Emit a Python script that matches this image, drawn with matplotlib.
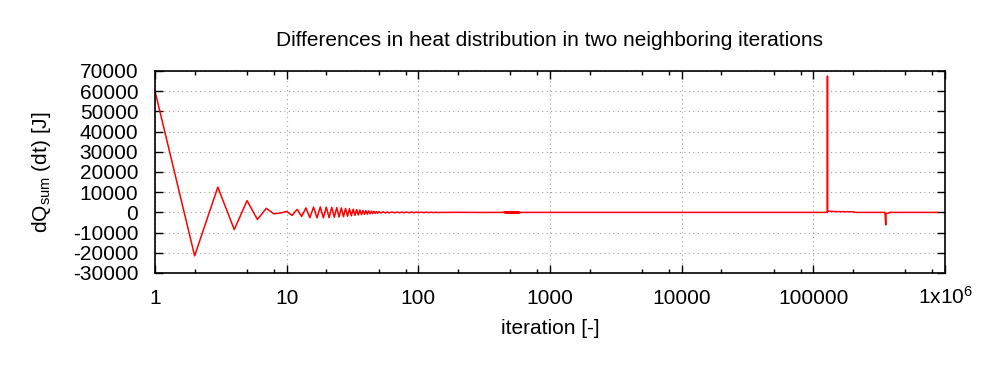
import numpy as np
import matplotlib
matplotlib.use("Agg")
import matplotlib.pyplot as plt
from matplotlib.ticker import FixedLocator, FixedFormatter

plt.rcParams['font.family'] = ['Liberation Sans', 'DejaVu Sans']
plt.rcParams['mathtext.fontset'] = 'custom'
plt.rcParams['mathtext.rm'] = 'Liberation Sans'
plt.rcParams['mathtext.it'] = 'Liberation Sans'

# first iterations, one value per iteration (1..50)
dq_start = [60000, -21500, 12500, -8500, 5800, -3500, 2000, -700, -300, 500,
            -1500, 1500, -2000, 2200, -2600, 2600, -2700, 2700, -2700, 2600,
            -2600, 2500, -2400, 2400, -2300, 2200, -2100, 2000, -1900, 1800,
            -1700, 1600, -1500, 1400, -1300, 1200, -1100, 1000, -900, 850,
            -800, 750, -700, 650, -600, 550, -500, 450, -400, 350]

# small ringing after that
it_mid = [52, 54, 56, 58, 60, 63, 66, 69, 72, 75, 78, 81, 85, 89, 93, 97,
          101, 105, 110, 115, 120, 125, 130, 135, 140, 150, 200, 300, 440]
dq_mid = [-300, 280, -260, 240, -220, 200, -190, 180, -170, 160, -150, 150,
          -140, 140, -130, 130, -120, 120, -120, 110, -110, 100, -100, 90, -70,
          0, 40, -30, 0]

# noisy patch between ~450 and ~600
it_noise = [450, 455, 460, 465, 470, 475, 480, 485, 490, 495, 500, 505, 510,
            515, 520, 525, 530, 535, 540, 545, 550, 555, 560, 565, 570, 575,
            580, 585, 590]
dq_noise = [350, -350, 380, -380, 400, -400, 380, -380, 400, -400, 420, -420,
            400, -400, 380, -380, 400, -400, 380, -380, 360, -360, 380, -380,
            350, -350, 330, -330, 0]

# late iterations: spike and dip
it_late = [600, 1000, 10000, 100000, 127500, 128000, 128500, 150000, 200000,
           210000, 350000, 355000, 356000, 370000, 380000, 880000]
dq_late = [0, 0, 0, 0, 0, 67500, 600, 400, 300, 0, 0, -6200, -500, -400, 0, 0]

iters = np.concatenate([np.arange(1, len(dq_start) + 1), it_mid, it_noise, it_late])
dq = np.concatenate([dq_start, dq_mid, dq_noise, dq_late])

x_major = [1, 10, 100, 1000, 10000, 100000, 1000000]
x_labels = ['1', '10', '100', '1000', '10000', '100000', r'1x10$^{6}$']
x_minor = [m * 10 ** k for k in range(6) for m in (2, 5, 8)]
y_ticks = list(range(-30000, 70001, 10000))

fig = plt.figure(figsize=(10.05, 3.7), dpi=100)
ax = fig.add_axes([155 / 1005, 97 / 370, 790 / 1005, 202 / 370])

ax.plot(iters, dq, color='#ff0000', lw=1.1)

ax.set_xscale('log')
ax.set_xlim(1, 1e6)
ax.set_ylim(-30000, 70000)
ax.xaxis.set_major_locator(FixedLocator(x_major))
ax.xaxis.set_major_formatter(FixedFormatter(x_labels))
ax.xaxis.set_minor_locator(FixedLocator(x_minor))
ax.xaxis.set_minor_formatter(FixedFormatter([''] * len(x_minor)))
ax.set_yticks(y_ticks)
ax.set_yticklabels([str(v) for v in y_ticks])

ax.tick_params(which='both', direction='in', top=True, right=True,
               labelsize=15, width=1.0)
ax.tick_params(which='major', length=6)
ax.tick_params(which='minor', length=3)
ax.tick_params(axis='x', pad=22)
ax.tick_params(axis='y', pad=12)
for lab in ax.get_xticklabels():
    lab.set_verticalalignment('baseline')
for s in ax.spines.values():
    s.set_linewidth(1.2)

ax.grid(True, which='major', color='#a0a0a0', linestyle=(0, (1, 3)), lw=0.8)

ax.set_title('Differences in heat distribution in two neighboring iterations',
             fontsize=15, pad=18)
ax.set_xlabel('iteration [-]', fontsize=15, labelpad=8)
ax.set_ylabel(r'dQ$_{\mathrm{sum}}$ (dt) [J]', fontsize=15)
ax.yaxis.set_label_coords(-0.129, 0.5)

fig.savefig('out.png', dpi=100)
